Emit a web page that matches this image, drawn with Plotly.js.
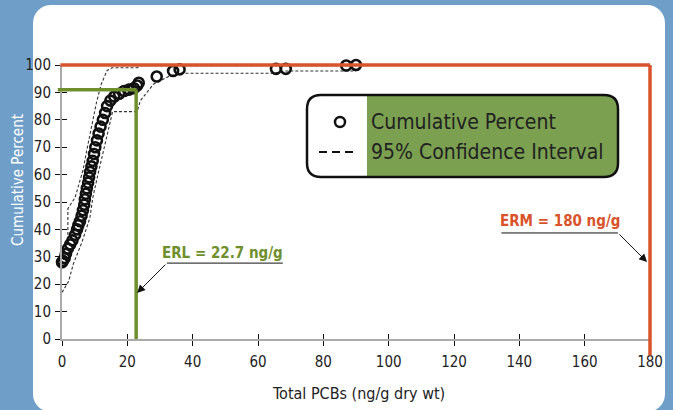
<!DOCTYPE html>
<html>
<head>
<meta charset="utf-8">
<script src="https://cdn.plot.ly/plotly-3.0.1.min.js"></script>
<style>
  html, body { margin:0; padding:0; }
  body { width:673px; height:410px; background:#6f9fc9; position:relative; overflow:hidden; }
  #panel { position:absolute; left:33px; top:5px; width:632px; height:407px; background:#fff; border-radius:18px; }
  #chart { position:absolute; left:0; top:0; width:673px; height:410px; }
</style>
</head>
<body>
<div id="panel"></div>
<div id="chart"></div>
<script>
// ---- data ----
const pcb    = [0,0.3,0.8,1.2,1.8,2.5,3.2,4,4.6,5,5.5,6,6.4,6.8,7,7.3,7.6,8,8.3,8.6,9,9.4,9.8,10.2,10.7,11.2,11.8,12.5,13.2,13.8,14.8,16,17.5,19,20.5,22,23,23.5,29,34,36,65.5,68.5,87,90];
const cumPct = [28,28.5,29.5,31,33,34.5,36,38,40,41.5,43,45,47,49,51,53,55,57,59,61,63,65,67.5,70,72.5,75,77.5,80,82.5,85,87,88.5,89.5,90.5,91,91.5,92.5,93.5,95.8,97.8,98.4,98.6,98.6,99.8,100];
const ciUpX = [1.8,1.8,4,6.4,7.6,9.5,10.5,12,13.8,15.3,23,24,90];
const ciUpY = [38,47.6,51.6,61.5,69,80,86,93,98,99,99,99.7,99.7];
const ciLoX = [0,2,3.5,6,8.5,9.5,11,13,15.5,23,24,28,33,36,65,68,90];
const ciLoY = [17,21,27.5,35,44,52,60,70,83,83,87,93,96,97,97,97.8,97.8];
const xTicks = [0,20,40,60,80,100,120,140,160,180];
const yTicks = [0,10,20,30,40,50,60,70,80,90,100];
const ERL = 22.7, ERL_PCT = 91, ERM = 180, ERM_PCT = 100;
const erlLabel = 'ERL = 22.7 ng/g', ermLabel = 'ERM = 180 ng/g';
const legendLabels = ['Cumulative Percent', '95% Confidence Interval'];

const FONT = '"Liberation Sans Narrow", "DejaVu Sans Condensed", "Roboto Condensed", "Arial Narrow", sans-serif';
const GREEN = '#6f8f2d', RED = '#d9532b', LGREEN = '#7aa050';
const M = {l:62, r:23, t:65, b:71};
const W = 673 - M.l - M.r, H = 410 - M.t - M.b;
const X_RANGE = [0,180], Y_RANGE = [0,100];
// data -> paper (for shapes allowed to leave the plot area)
const dx = v => (v - X_RANGE[0]) / (X_RANGE[1] - X_RANGE[0]);
const dy = v => (v - Y_RANGE[0]) / (Y_RANGE[1] - Y_RANGE[0]);
// pixel -> paper (for decorations)
const px = p => (p - M.l) / W;
const py = p => (410 - M.b - p) / H;

const traces = [
  {x: ciUpX, y: ciUpY, mode:'lines', line:{color:'#333', width:1.1, dash:'3px,2px'}, hoverinfo:'skip', showlegend:false},
  {x: ciLoX, y: ciLoY, mode:'lines', line:{color:'#333', width:1.1, dash:'3px,2px'}, hoverinfo:'skip', showlegend:false},
  {x: pcb, y: cumPct, mode:'markers', cliponaxis:false,
   marker:{symbol:'circle-open', size:10, color:'#111', line:{width:2.6, color:'#111'}}, showlegend:false},
  {x: [], y: [], xaxis:'x2', yaxis:'y2', mode:'markers', showlegend:false}
];

function rr(w, h, r, leftFlat) {
  // rounded rect path in pixels, anchor at top-left, y up
  const L = leftFlat ? `M ${leftFlat},0 ` : `M ${r},0 `;
  let p = L + `H ${w-r} Q ${w},0 ${w},${-r} V ${-(h-r)} Q ${w},${-h} ${w-r},${-h} `;
  if (leftFlat) p += `H ${leftFlat} Z`;
  else p += `H ${r} Q 0,${-h} 0,${-(h-r)} V ${-r} Q 0,0 ${r},0 Z`;
  return p;
}
const LG = {x:307, y:95, w:311, h:82, r:14};

const shapes = [
  // ERM lines
  {type:'line', xref:'paper', yref:'paper', x0:dx(-0.5), x1:dx(ERM), y0:dy(ERM_PCT), y1:dy(ERM_PCT), line:{color:RED, width:3.5}},
  {type:'line', xref:'paper', yref:'paper', x0:dx(ERM), x1:dx(ERM), y0:dy(ERM_PCT), y1:dy(-6), line:{color:RED, width:3.5}},
  // ERL lines
  {type:'line', xref:'paper', yref:'paper', x0:dx(-1.3), x1:dx(ERL), y0:dy(ERL_PCT), y1:dy(ERL_PCT), line:{color:GREEN, width:3.5}},
  {type:'line', xref:'paper', yref:'paper', x0:dx(ERL), x1:dx(ERL), y0:dy(ERL_PCT), y1:dy(0), line:{color:GREEN, width:3.5}},
  // label underlines
  {type:'line', xref:'x', yref:'y', x0:32.1, x1:67.6, y0:27.7, y1:27.7, line:{color:'#111', width:1}},
  {type:'line', xref:'x', yref:'y', x0:134.5, x1:170.2, y0:38.7, y1:38.7, line:{color:'#111', width:1}},
  // legend box
  {type:'path', xref:'paper', yref:'paper', xsizemode:'pixel', ysizemode:'pixel', xanchor:px(LG.x), yanchor:py(LG.y),
   path: rr(LG.w, LG.h, LG.r), fillcolor:'#fff', line:{width:0}},
  {type:'path', xref:'paper', yref:'paper', xsizemode:'pixel', ysizemode:'pixel', xanchor:px(LG.x), yanchor:py(LG.y),
   path: rr(LG.w, LG.h, LG.r, 60), fillcolor:LGREEN, line:{width:0}},
  {type:'path', xref:'paper', yref:'paper', xsizemode:'pixel', ysizemode:'pixel', xanchor:px(LG.x), yanchor:py(LG.y),
   path: rr(LG.w, LG.h, LG.r), fillcolor:'rgba(0,0,0,0)', line:{color:'#111', width:2.5}},
  {type:'circle', xref:'paper', yref:'paper', xsizemode:'pixel', ysizemode:'pixel', xanchor:px(340), yanchor:py(122),
   x0:-5, x1:5, y0:-5, y1:5, line:{color:'#111', width:2.5}},
  {type:'line', xref:'paper', yref:'paper', x0:px(319), x1:px(358), y0:py(152), y1:py(152), line:{color:'#111', width:2, dash:'8px,5px'}}
];

const annotations = [
  {xref:'x', yref:'y', x:49, y:31.4, xanchor:'center', yanchor:'middle', text:'<b>'+erlLabel+'</b>', showarrow:false, font:{family:FONT, size:15, color:GREEN}},
  {xref:'x', yref:'y', x:152.4, y:43.1, xanchor:'center', yanchor:'middle', text:'<b>'+ermLabel+'</b>', showarrow:false, font:{family:FONT, size:15, color:RED}},
  {xref:'x', yref:'y', x:23.0, y:16.8, axref:'x', ayref:'y', ax:32.1, ay:27.7, text:'', showarrow:true,
   arrowhead:2, arrowsize:1.6, arrowwidth:1, arrowcolor:'#111'},
  {xref:'x', yref:'y', x:179.1, y:28.1, axref:'x', ayref:'y', ax:170.2, ay:38.7, text:'', showarrow:true,
   arrowhead:2, arrowsize:1.6, arrowwidth:1, arrowcolor:'#111'},
  {xref:'paper', yref:'paper', x:px(369), y:py(122), xanchor:'left', yanchor:'middle', text:legendLabels[0], showarrow:false,
   font:{family:FONT, size:21, color:'#222'}},
  {xref:'paper', yref:'paper', x:px(369), y:py(152), xanchor:'left', yanchor:'middle', text:legendLabels[1], showarrow:false,
   font:{family:FONT, size:21, color:'#222'}},
  {xref:'paper', yref:'paper', x:px(18), y:py(180), xanchor:'center', yanchor:'middle', text:'Cumulative Percent', textangle:-90, showarrow:false,
   font:{family:FONT, size:15, color:'#fff'}},
  {xref:'paper', yref:'paper', x:px(359), y:py(393), xanchor:'center', yanchor:'middle', text:'Total PCBs (ng/g dry wt)', showarrow:false,
   font:{family:FONT, size:16, color:'#222'}}
];

const axBase = {showgrid:false, zeroline:false, ticklen:5, tickwidth:1, tickcolor:'#111',
  showline:true, linecolor:'#aaa', linewidth:2, fixedrange:true};

const layout = {
  width:673, height:410, margin:M,
  paper_bgcolor:'rgba(0,0,0,0)', plot_bgcolor:'rgba(0,0,0,0)',
  font:{family:FONT, color:'#222', size:14},
  xaxis:Object.assign({}, axBase, {range:X_RANGE, tickvals:xTicks, ticks:'outside', ticklabelstandoff:3,
    tickfont:{family:FONT, size:15, color:'#222'}}),
  yaxis:Object.assign({}, axBase, {range:Y_RANGE, tickvals:yTicks, ticks:'outside', ticklabelstandoff:1,
    tickfont:{family:FONT, size:15, color:'#222'}}),
  xaxis2:Object.assign({}, axBase, {range:X_RANGE, tickvals:xTicks, ticks:'inside', overlaying:'x', side:'bottom',
    anchor:'y2', showticklabels:false}),
  yaxis2:Object.assign({}, axBase, {range:Y_RANGE, tickvals:yTicks, ticks:'inside', overlaying:'y', side:'left',
    anchor:'x2', showticklabels:false}),
  shapes:shapes, annotations:annotations, showlegend:false
};

Plotly.newPlot('chart', traces, layout, {displayModeBar:false, staticPlot:true});
</script>
</body>
</html>
